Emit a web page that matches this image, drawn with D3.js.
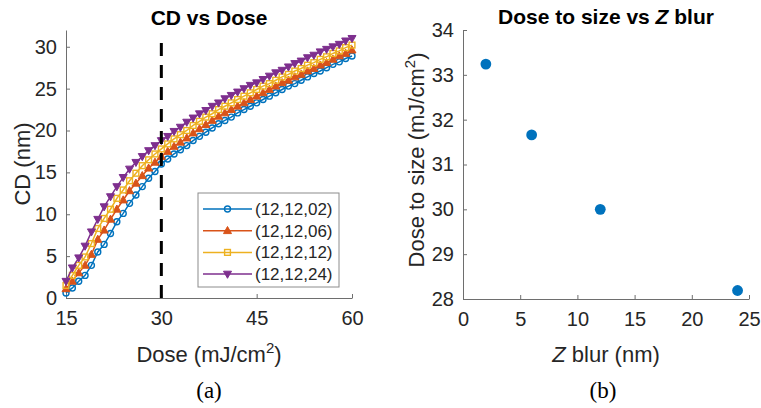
<!DOCTYPE html>
<html>
<head>
<meta charset="utf-8">
<script src="https://cdn.jsdelivr.net/npm/d3@7"></script>
<style>
  body { margin: 0; background: #fff; }
  svg { display: block; font-family: "Liberation Sans", Arial, sans-serif; }
</style>
</head>
<body>
<div id="chart"></div>
<script>
const BLUE = "#0072BD"
const ORANGE = "#D95319"
const YELLOW = "#EDB120"
const PURPLE = "#7E2F8E"
const TEXT = "#262626"
const AXIS = "#6e6e6e"

// panel (a): CD vs dose, one value per mJ/cm2 from 15 to 60
var doses = d3.range(15, 61);
var cd_02 = [0.6, 1.2, 2.0, 2.7, 3.9, 5.5, 6.4, 7.7, 9.1, 10.1, 11.3, 12.3, 13.3, 14.3, 15.1, 16.0,
  16.6, 17.2, 17.7, 18.2, 18.8, 19.3, 19.8, 20.3, 20.8, 21.2, 21.6, 22.1, 22.5, 22.9, 23.3,
  23.7, 24.1, 24.5, 24.9, 25.3, 25.6, 26.0, 26.4, 26.8, 27.1, 27.5, 27.9, 28.2, 28.6, 28.9];
var cd_06 = [1.1, 2.0, 3.0, 3.9, 5.2, 7.0, 8.1, 9.4, 10.6, 11.7, 12.8, 13.7, 14.6, 15.5, 16.2, 16.9,
  17.5, 18.1, 18.6, 19.1, 19.7, 20.2, 20.7, 21.2, 21.7, 22.1, 22.5, 22.9, 23.3, 23.7, 24.1,
  24.5, 24.9, 25.3, 25.7, 26.0, 26.4, 26.7, 27.1, 27.4, 27.8, 28.1, 28.5, 28.9, 29.2, 29.6];
var cd_12 = [1.5, 2.7, 3.9, 4.9, 6.5, 8.3, 9.5, 10.6, 11.9, 12.9, 14.0, 14.9, 15.8, 16.5, 17.2, 17.8,
  18.4, 19.0, 19.5, 20.0, 20.6, 21.1, 21.6, 22.0, 22.5, 22.9, 23.3, 23.7, 24.1, 24.5, 24.9,
  25.3, 25.6, 26.0, 26.4, 26.7, 27.1, 27.4, 27.8, 28.1, 28.5, 28.8, 29.2, 29.5, 29.9, 30.2];
var cd_24 = [2.0, 3.6, 4.8, 6.2, 7.9, 9.4, 10.9, 12.1, 13.3, 14.4, 15.4, 16.2, 16.9, 17.6, 18.2, 18.8,
  19.3, 19.9, 20.4, 21.0, 21.5, 22.0, 22.4, 22.9, 23.3, 23.8, 24.2, 24.6, 25.0, 25.4, 25.7,
  26.1, 26.5, 26.9, 27.2, 27.6, 28.0, 28.3, 28.7, 29.0, 29.4, 29.7, 30.0, 30.3, 30.7, 31.0];
var seriesNames = ["(12,12,02)", "(12,12,06)", "(12,12,12)", "(12,12,24)"];
var doseLine = [[30, 0], [30, 31]];
var doseTicks = [15, 30, 45, 60];
var cdTicks = [0, 5, 10, 15, 20, 25, 30];

// panel (b): dose to size vs z blur
var zBlur = [2, 6, 12, 24];
var doseToSize = [33.24, 31.66, 30.0, 28.19];
var blurTicks = [0, 5, 10, 15, 20, 25];
var dtsTicks = [28, 29, 30, 31, 32, 33, 34];

var series = [
  {name: seriesNames[0], values: cd_02, color: BLUE, marker: "circle"},
  {name: seriesNames[1], values: cd_06, color: ORANGE, marker: "up"},
  {name: seriesNames[2], values: cd_12, color: YELLOW, marker: "square"},
  {name: seriesNames[3], values: cd_24, color: PURPLE, marker: "down"}
];

var svg = d3.select("#chart").append("svg")
  .attr("width", 761)
  .attr("height", 408);

function drawMarker(g, type, color) {
  if (type == "circle") {
    g.append("circle").attr("r", 3)
      .attr("fill", "none").attr("stroke", color).attr("stroke-width", 1.4);
  } else if (type == "square") {
    g.append("rect").attr("x", -2.9).attr("y", -2.9).attr("width", 5.8).attr("height", 5.8)
      .attr("fill", "none").attr("stroke", color).attr("stroke-width", 1.4);
  } else {
    var s = type == "up" ? 1 : -1;
    g.append("path")
      .attr("d", "M0," + (-4.2 * s) + "L4," + (2.9 * s) + "L-4," + (2.9 * s) + "Z")
      .attr("fill", color).attr("stroke", color).attr("stroke-width", 1);
  }
}

function styleAxis(g) {
  g.select(".domain").attr("stroke", AXIS).attr("stroke-width", 1);
  g.selectAll(".tick line").attr("stroke", AXIS).attr("stroke-width", 1);
  g.selectAll(".tick text").attr("fill", TEXT).style("font-size", "20px");
}

// ---------- panel (a)
var a = {left: 66, right: 352, top: 30, bottom: 298};
var xA = d3.scaleLinear().domain([15, 60]).range([a.left, a.right]);
var yA = d3.scaleLinear().domain([0, 32]).range([a.bottom, a.top]);

svg.append("g")
  .attr("transform", "translate(0," + a.bottom + ")")
  .call(d3.axisBottom(xA).tickValues(doseTicks).tickFormat(d3.format("d"))
    .tickSizeInner(-4).tickSizeOuter(0).tickPadding(13))
  .call(styleAxis);
svg.append("g")
  .attr("transform", "translate(" + a.left + ",0)")
  .call(d3.axisLeft(yA).tickValues(cdTicks).tickFormat(d3.format("d"))
    .tickSizeInner(-4).tickSizeOuter(0).tickPadding(9))
  .call(styleAxis);

var line = d3.line()
  .x(function(d) { return xA(d[0]); })
  .y(function(d) { return yA(d[1]); });

series.forEach(function(s) {
  var pts = doses.map(function(d, i) { return [d, s.values[i]]; });
  svg.append("path")
    .datum(pts)
    .attr("d", line)
    .attr("fill", "none")
    .attr("stroke", s.color)
    .attr("stroke-width", 1.5);
  svg.selectAll(null)
    .data(pts)
    .enter().append("g")
    .attr("transform", function(d) { return "translate(" + xA(d[0]) + "," + yA(d[1]) + ")"; })
    .each(function() { drawMarker(d3.select(this), s.marker, s.color); });
});

svg.append("path")
  .datum(doseLine)
  .attr("d", line)
  .attr("fill", "none")
  .attr("stroke", "#000")
  .attr("stroke-width", 3)
  .attr("stroke-dasharray", "13,9");

// legend
var legend = svg.append("g").attr("transform", "translate(198,193)");
legend.append("rect")
  .attr("width", 141).attr("height", 94)
  .attr("fill", "#fff").attr("stroke", "#8c8c8c").attr("stroke-width", 1);
series.forEach(function(s, i) {
  var row = legend.append("g").attr("transform", "translate(0," + (16 + i * 21.7) + ")");
  row.append("line").attr("x1", 5).attr("x2", 54)
    .attr("stroke", s.color).attr("stroke-width", 1.5);
  drawMarker(row.append("g").attr("transform", "translate(29.5,0)"), s.marker, s.color);
  row.append("text").attr("x", 57).attr("dy", "0.35em")
    .attr("fill", TEXT).style("font-size", "17px").text(s.name);
});

svg.append("text")
  .attr("x", 209).attr("y", 25)
  .attr("text-anchor", "middle").attr("fill", "#000")
  .style("font-size", "21px").style("font-weight", "bold")
  .text("CD vs Dose");

svg.append("text")
  .attr("transform", "translate(30,164) rotate(-90)")
  .attr("text-anchor", "middle").attr("fill", TEXT)
  .style("font-size", "22px")
  .text("CD (nm)");

var xlabA = svg.append("text")
  .attr("x", 209).attr("y", 362)
  .attr("text-anchor", "middle").attr("fill", TEXT)
  .style("font-size", "22px");
xlabA.append("tspan").text("Dose (mJ/cm");
xlabA.append("tspan").attr("dy", -9).style("font-size", "15px").text("2");
xlabA.append("tspan").attr("dy", 9).text(")");

svg.append("text")
  .attr("x", 209).attr("y", 398)
  .attr("text-anchor", "middle").attr("fill", "#000")
  .style("font-family", "'Liberation Serif', 'Times New Roman', serif")
  .style("font-size", "23px")
  .text("(a)");

// ---------- panel (b)
var b = {left: 463, right: 749, top: 30, bottom: 299};
var xB = d3.scaleLinear().domain([0, 25]).range([b.left, b.right]);
var yB = d3.scaleLinear().domain([28, 34]).range([b.bottom, b.top]);

svg.append("g")
  .attr("transform", "translate(0," + b.bottom + ")")
  .call(d3.axisBottom(xB).tickValues(blurTicks).tickFormat(d3.format("d"))
    .tickSizeInner(-4).tickSizeOuter(0).tickPadding(13))
  .call(styleAxis);
svg.append("g")
  .attr("transform", "translate(" + b.left + ",0)")
  .call(d3.axisLeft(yB).tickValues(dtsTicks).tickFormat(d3.format("d"))
    .tickSizeInner(-4).tickSizeOuter(0).tickPadding(9))
  .call(styleAxis);

svg.selectAll(".dot")
  .data(zBlur)
  .enter().append("circle")
  .attr("class", "dot")
  .attr("cx", function(d) { return xB(d); })
  .attr("cy", function(d, i) { return yB(doseToSize[i]); })
  .attr("r", 5.4)
  .attr("fill", BLUE);

var titleB = svg.append("text")
  .attr("x", 606).attr("y", 24)
  .attr("text-anchor", "middle").attr("fill", "#000")
  .style("font-size", "21px").style("font-weight", "bold");
titleB.append("tspan").text("Dose to size vs ");
titleB.append("tspan").style("font-style", "italic").text("Z");
titleB.append("tspan").text(" blur");

var ylabB = svg.append("text")
  .attr("transform", "translate(424,160) rotate(-90)")
  .attr("text-anchor", "middle").attr("fill", TEXT)
  .style("font-size", "22px");
ylabB.append("tspan").text("Dose to size (mJ/cm");
ylabB.append("tspan").attr("dy", -9).style("font-size", "15px").text("2");
ylabB.append("tspan").attr("dy", 9).text(")");

var xlabB = svg.append("text")
  .attr("x", 606).attr("y", 362)
  .attr("text-anchor", "middle").attr("fill", TEXT)
  .style("font-size", "22px");
xlabB.append("tspan").style("font-style", "italic").text("Z");
xlabB.append("tspan").text(" blur (nm)");

svg.append("text")
  .attr("x", 603).attr("y", 398)
  .attr("text-anchor", "middle").attr("fill", "#000")
  .style("font-family", "'Liberation Serif', 'Times New Roman', serif")
  .style("font-size", "23px")
  .text("(b)");
</script>
</body>
</html>
